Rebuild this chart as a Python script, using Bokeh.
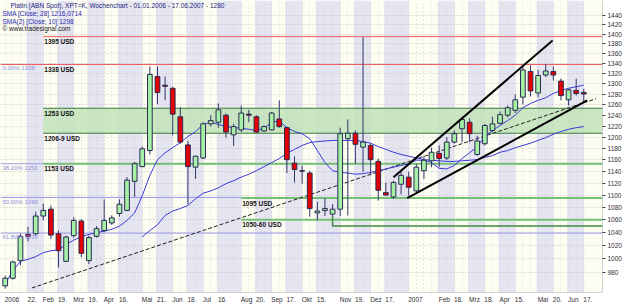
from bokeh.plotting import figure
from bokeh.models import Range1d, FixedTicker, Label, PrintfTickFormatter, CustomJSTickFormatter, ColumnDataSource
from bokeh.embed import file_html
from bokeh.resources import INLINE

# ---------------- data (weekly candles, 01.01.2006 .. 17.06.2007) ----------------
opens = [960, 971, 997, 1037, 1038, 1066, 1077, 1038, 996, 1035,
         1058, 997, 1034, 1043, 1055, 1070, 1075, 1123, 1148, 1176,
         1314, 1297, 1291, 1237, 1186, 1147, 1163, 1224, 1227, 1240,
         1204, 1213, 1242, 1237, 1211, 1213, 1233, 1217, 1154, 1141,
         1137, 1071, 1075, 1069, 1077, 1197, 1207, 1182, 1185, 1157,
         1104, 1097, 1118, 1130, 1107, 1141, 1158, 1171, 1163, 1191,
         1215, 1227, 1169, 1188, 1212, 1225, 1240, 1249, 1274, 1324,
         1282, 1317, 1324, 1305, 1269, 1287, 1283]
highs = [975, 997, 1038, 1049, 1073, 1086, 1083, 1043, 1035, 1064,
         1061, 1035, 1050, 1093, 1067, 1093, 1130, 1156, 1183, 1334,
         1334, 1314, 1294, 1255, 1193, 1167, 1227, 1240, 1262, 1243,
         1224, 1258, 1250, 1240, 1221, 1246, 1268, 1219, 1166, 1150,
         1141, 1089, 1095, 1085, 1217, 1232, 1212, 1394, 1188, 1162,
         1121, 1124, 1139, 1139, 1153, 1166, 1181, 1185, 1200, 1212,
         1236, 1234, 1202, 1224, 1237, 1247, 1258, 1279, 1336, 1336,
         1327, 1339, 1334, 1310, 1290, 1310, 1290]
lows = [956, 969, 990, 1026, 1035, 1059, 1030, 987, 995, 1032,
        1002, 992, 1032, 1041, 1052, 1065, 1074, 1097, 1147, 1169,
        1261, 1268, 1203, 1188, 1085, 1127, 1161, 1219, 1217, 1199,
        1184, 1209, 1227, 1207, 1209, 1212, 1217, 1137, 1121, 1119,
        1065, 1059, 1066, 1066, 1066, 1067, 1153, 1139, 1133, 1091,
        1099, 1094, 1101, 1099, 1104, 1127, 1147, 1147, 1159, 1188,
        1191, 1191, 1167, 1185, 1209, 1223, 1236, 1244, 1260, 1275,
        1274, 1313, 1306, 1268, 1258, 1277, 1264]
closes = [971, 995, 1034, 1034, 1066, 1075, 1036, 1012, 1033, 1059,
          1008, 1032, 1046, 1059, 1063, 1085, 1125, 1153, 1179, 1318,
          1283, 1295, 1242, 1191, 1148, 1166, 1224, 1230, 1250, 1209,
          1219, 1244, 1240, 1209, 1219, 1244, 1219, 1160, 1143, 1140,
          1078, 1074, 1078, 1077, 1206, 1207, 1187, 1191, 1160, 1108,
          1100, 1121, 1133, 1113, 1147, 1159, 1173, 1162, 1191, 1206,
          1232, 1206, 1193, 1221, 1224, 1241, 1254, 1269, 1327, 1286,
          1316, 1325, 1317, 1277, 1288, 1281, 1280]

sma10 = [963, 982, 996, 999, 1003, 1009, 1012, 1013, 1022, 1028,
         1034, 1037, 1040, 1042, 1045, 1050, 1059, 1071, 1099, 1133,
         1160, 1172, 1181, 1190, 1201, 1210, 1223, 1227, 1223, 1219,
         1217, 1216, 1214, 1212, 1216, 1227, 1229, 1217, 1210, 1206,
         1197, 1176, 1155, 1141, 1138, 1137, 1135, 1136, 1138, 1141,
         1144, 1147, 1150, 1153, 1159, 1159, 1155, 1145, 1144, 1150,
         1162, 1172, 1183, 1201, 1212, 1221, 1230, 1240, 1254, 1262,
         1268, 1273, 1281, 1287, 1291, 1294, 1297]
sma28_first_week = 18
sma28 = [1033, 1043, 1052, 1067, 1074, 1078, 1083, 1094, 1103, 1107,
         1112, 1119, 1124, 1130, 1135, 1141, 1148, 1155, 1162, 1171,
         1178, 1185, 1190, 1192, 1193, 1194, 1194, 1194, 1194, 1192,
         1189, 1183, 1178, 1173, 1169, 1166, 1163, 1160, 1159, 1158,
         1157, 1157, 1158, 1159, 1160, 1164, 1167, 1173, 1176, 1181,
         1185, 1189, 1194, 1199, 1205, 1210, 1214, 1217, 1219]

tick_weeks = [0, 3, 5, 7, 9, 11, 13, 15, 18, 20, 22, 24, 26, 28, 31, 33, 35, 37,
              39, 41, 44, 46, 48, 50, 53, 57, 59, 61, 63, 65, 67, 70, 72, 74, 76]
tick_labels = ["2006", "22.", "Feb", "19.", "Mrz", "19.", "Apr", "16.", "Mai", "21.",
               "Jun", "18.", "Jul", "16.", "Aug", "20.", "Sep", "17.", "Okt", "15.",
               "Nov", "19.", "Dez", "17.", "2007", "Feb", "18.", "Mrz", "18.", "Apr",
               "15.", "Mai", "20.", "Jun", "17."]
price_ticks = list(range(980, 1441, 20))

red_levels = [1395, 1338]
red_level_start = [5, -0.62]
zone_top, zone_bottom = 1253, 1206.9
green_levels = [1153, 1095, 1060]
green_level_start = [5, 31, 31]
dark_level = 1050
dark_level_week, dark_level_from = 43, 1066
level_texts = [("1395 USD", 5, 1395), ("1338 USD", 5, 1338), ("1253 USD", 5, 1253),
               ("1206-9 USD", 5, 1206.9), ("1153 USD", 5, 1153), ("1095 USD", 31, 1095),
               ("1050-60 USD", 31, 1060)]
fib_values = [1338, 1153, 1096, 1039]
fib_texts = ["0.00%  1338", "38.20%  1153", "50.00%  1096", "61.80%  1039"]

trend_x, trend_y = [3.5, 77.6], [957, 1271]
chan_up_x, chan_up_y = [51.0, 71.9], [1130, 1387]
chan_lo_x, chan_lo_y = [52.8, 76.45], [1095, 1268]

header = ["Platin (ABN Spot), XPT=K, Wochenchart - 01.01.2006 - 17.06.2007 - 1280",
          "SMA [Close; 28] 1216,0714",
          "SMA(2) [Close; 10] 1298",
          "\u00a9 www.tradesignal.com"]

# ---------------- figure ----------------
X0, X1 = -0.62, 78.455
Y0, Y1 = 950.5, 1472.7
FRAME_W, FRAME_H = 602, 292
FONT = "Liberation Sans"

p = figure(width=625, height=305, x_range=Range1d(X0, X1), y_range=Range1d(Y0, Y1),
           y_axis_type="log", y_axis_location="right", output_backend="svg",
           toolbar_location=None, min_border_left=0, min_border_right=23,
           min_border_top=0, min_border_bottom=13,
           background_fill_color="#fdfdf1", border_fill_color="#ffffff")
p.outline_line_color = None

# alternating shaded bands between every second pair of axis labels
bl, br = [], []
for j in range(1, len(tick_weeks) - 1, 2):
    bl.append(tick_weeks[j] - 0.2)
    br.append(tick_weeks[j + 1] + 0.05)
p.quad(left=bl, right=br, bottom=Y0, top=Y1, fill_color="#c4c4ee", fill_alpha=0.42, line_color=None)

# grid
p.ygrid.ticker = FixedTicker(ticks=price_ticks)
p.ygrid.grid_line_color = "#c4c4c4"
p.ygrid.grid_line_dash = "1 2"
p.xgrid.ticker = FixedTicker(ticks=list(range(len(opens))))
p.xgrid.grid_line_color = "#d6d6d6"
p.xgrid.grid_line_dash = "1 3"

# support zone
p.quad(left=5, right=X1, bottom=zone_bottom, top=zone_top, fill_color="#c2e3ba", fill_alpha=0.85,
       line_color=None)
for v in (zone_top, zone_bottom):
    p.line([5, X1], [v, v], line_color="#3d7d3d", line_width=1.2)

# fibonacci lines
for v in fib_values:
    p.line([X0, X1], [v, v], line_color="#9c9cee", line_width=1)

# horizontal levels
for v, s in zip(red_levels, red_level_start):
    p.line([s, X1], [v, v], line_color="#f25a5a", line_width=1)
for v, s in zip(green_levels, green_level_start):
    p.line([s, X1], [v, v], line_color="#74c074", line_width=2)
p.line([dark_level_week, dark_level_week, X1], [dark_level_from, dark_level, dark_level],
       line_color="#3f8a3f", line_width=1.5)

# dashed long-term trend line
p.line(trend_x, trend_y, line_color="#202020", line_width=1, line_dash="4 2")

# moving averages
weeks = list(range(len(opens)))
p.line(weeks, sma10, line_color="#3a3ad8", line_width=1)
p.line(list(range(sma28_first_week, sma28_first_week + len(sma28))), sma28,
       line_color="#3a3ad8", line_width=1)

# candles
src = ColumnDataSource(dict(
    x=weeks, o=opens, h=highs, l=lows, c=closes,
    top=[max(o, c) for o, c in zip(opens, closes)],
    bot=[min(o, c) if o != c else min(o, c) - 0.8 for o, c in zip(opens, closes)],
    col=["#a6f0a6" if c >= o else "#e40000" for o, c in zip(opens, closes)],
))
p.segment(x0="x", y0="l", x1="x", y1="h", source=src, line_color="#35356e", line_width=1)
p.vbar(x="x", width=0.62, top="top", bottom="bot", source=src, fill_color="col",
       line_color="#2a2a55", line_width=1)

# trend channel
p.line(chan_up_x, chan_up_y, line_color="#000000", line_width=2)
p.line(chan_lo_x, chan_lo_y, line_color="#000000", line_width=2)

# texts on levels
for t, wk, v in level_texts:
    p.add_layout(Label(x=wk, y=v, text=t, x_offset=1, y_offset=-1.5, text_baseline="top",
                       text_font=FONT, text_font_size="6.5px", text_font_style="bold",
                       text_color="#101010"))
for t, v in zip(fib_texts, fib_values):
    p.add_layout(Label(x=2, y=v, x_units="screen", text=t, y_offset=-1, text_baseline="top",
                       text_font=FONT, text_font_size="6px", text_color="#9090e0"))

# header
hy = [5.3, 13.0, 20.7, 28.3]
hx = [10, 2, 2, 2]
hc = ["#1c1c80", "#2a2ab0", "#2a2ab0", "#202020"]
for t, x, y, c in zip(header, hx, hy, hc):
    p.add_layout(Label(x=x, y=FRAME_H - y, x_units="screen", y_units="screen", text=t,
                       text_baseline="middle", text_font=FONT, text_font_size="6.5px",
                       text_color=c))

# axes
p.yaxis.ticker = FixedTicker(ticks=price_ticks)
p.yaxis.formatter = PrintfTickFormatter(format="%d")
p.yaxis.major_label_text_font = FONT
p.yaxis.major_label_text_font_size = "6.5px"
p.yaxis.major_label_text_color = "#303030"
p.yaxis.major_tick_out = 3
p.yaxis.major_tick_in = 0
p.yaxis.major_tick_line_color = "#404040"
p.yaxis.minor_tick_line_color = None
p.yaxis.major_label_standoff = 2
p.yaxis.axis_line_color = "#a8a8a8"
p.yaxis.axis_line_dash = "1 1"

CW = {".": 0.278, "F": 0.611, "e": 0.556, "b": 0.556, "M": 0.833, "r": 0.333, "z": 0.5,
      "A": 0.667, "p": 0.556, "a": 0.556, "i": 0.222, "J": 0.5, "u": 0.556, "n": 0.556,
      "l": 0.222, "g": 0.556, "S": 0.667, "O": 0.778, "k": 0.5, "t": 0.278, "N": 0.722,
      "o": 0.556, "v": 0.5, "D": 0.722}
pxw = FRAME_W / (X1 - X0)
xt = []
for wk, lab in zip(tick_weeks, tick_labels):
    w = sum(CW.get(ch, 0.556) for ch in lab) * 6.5
    xt.append(round(wk + (w / 2 - 0.5) / pxw, 4))
p.xaxis.ticker = FixedTicker(ticks=xt)
p.xaxis.formatter = CustomJSTickFormatter(args=dict(tpos=xt, tlab=tick_labels), code="""
for (let i = 0; i < tpos.length; i++) { if (Math.abs(tpos[i] - tick) < 1e-6) return tlab[i]; }
return "";
""")
p.xaxis.major_label_text_font = FONT
p.xaxis.major_label_text_font_size = "6.5px"
p.xaxis.major_label_text_color = "#303030"
p.xaxis.major_tick_line_color = None
p.xaxis.major_tick_out = 0
p.xaxis.major_tick_in = 0
p.xaxis.minor_tick_line_color = None
p.xaxis.major_label_standoff = 3
p.xaxis.axis_line_color = "#a8a8a8"
p.xaxis.axis_line_dash = "1 1"

open("out.html", "w").write(file_html(p, INLINE))
